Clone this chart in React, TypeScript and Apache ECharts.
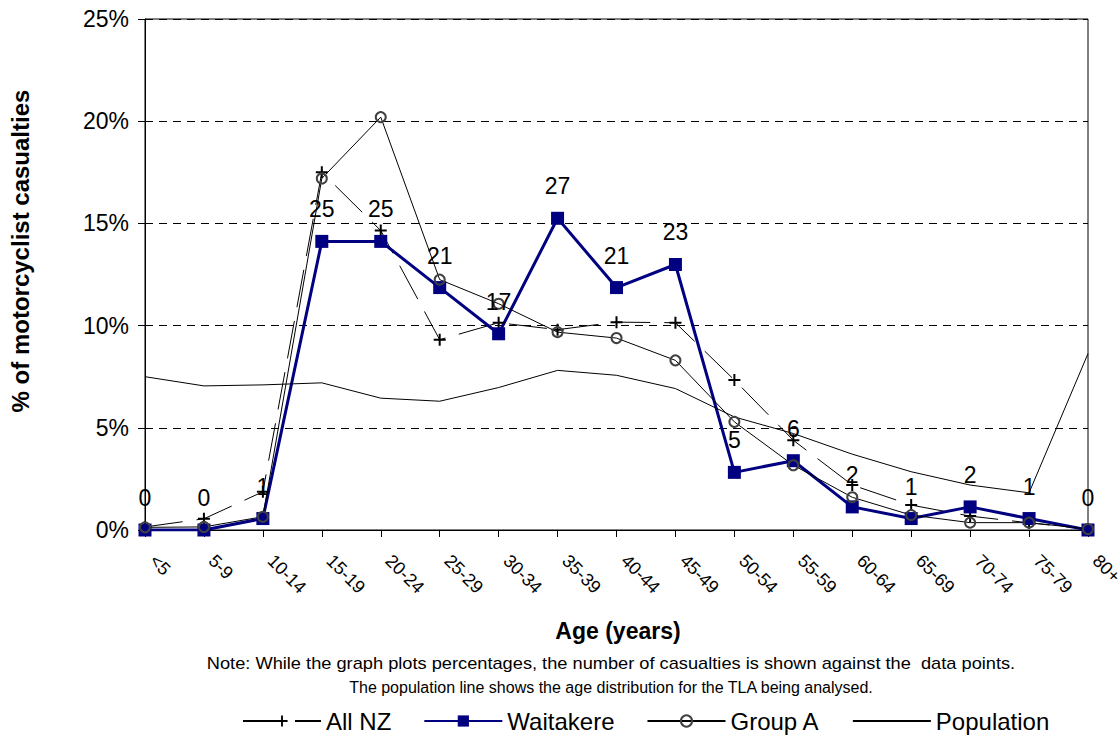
import React, { useEffect, useRef } from "react";
import * as echarts from "echarts";

const FONT = "'Liberation Sans', Arial, sans-serif";

const categories = ["<5", "5-9", "10-14", "15-19", "20-24", "25-29", "30-34", "35-39", "40-44", "45-49", "50-54", "55-59", "60-64", "65-69", "70-74", "75-79", "80+"];

// Percentages (%)
const allNZ = [0.15, 0.55, 1.87, 17.5, 14.65, 9.31, 10.14, 9.8, 10.17, 10.14, 7.34, 4.39, 2.2, 1.22, 0.68, 0.35, 0.05];
const waitakere = [0, 0, 0.56, 14.12, 14.12, 11.86, 9.6, 15.25, 11.86, 12.99, 2.82, 3.39, 1.13, 0.56, 1.13, 0.56, 0];
const groupA = [0.13, 0.15, 0.65, 17.2, 20.2, 12.25, 11.07, 9.68, 9.39, 8.3, 5.29, 3.17, 1.6, 0.73, 0.36, 0.36, 0.05];
const population = [7.5, 7.05, 7.1, 7.2, 6.45, 6.3, 6.97, 7.81, 7.57, 6.92, 5.53, 4.72, 3.71, 2.85, 2.2, 1.82, 8.63];

// Number of casualties (Waitakere) shown against the data points
const waitakereCounts = [0, 0, 1, 25, 25, 21, 17, 27, 21, 23, 5, 6, 2, 1, 2, 1, 0];

const yTicks = { min: 0, max: 25, interval: 5 };

const PLUS = "path://M5,0H7V5H12V7H7V12H5V7H0V5H5Z";

export default function App() {
  const ref = useRef<HTMLDivElement>(null);
  useEffect(() => {
    if (!ref.current) return;
    const chart = echarts.init(ref.current, null, { renderer: "svg" });
    chart.setOption({
      animation: false,
      backgroundColor: "#ffffff",
      textStyle: { fontFamily: FONT, color: "#000" },
      grid: {
        left: 145,
        right: 32,
        top: 19,
        bottom: 210,
        show: true,
        borderColor: "#000",
        borderWidth: 1,
        backgroundColor: "transparent",
        outerBoundsMode: "none",
        containLabel: false,
      },
      xAxis: {
        type: "category",
        data: categories,
        boundaryGap: false,
        axisLine: { show: true, lineStyle: { color: "#000", width: 1 } },
        axisTick: { show: true, length: 7, lineStyle: { color: "#000", width: 1 } },
        axisLabel: { interval: 0, rotate: -45, margin: 20, padding: [0, 0, 0, 11], color: "#000", fontSize: 18, fontFamily: FONT },
        splitLine: { show: false },
      },
      yAxis: {
        type: "value",
        min: yTicks.min,
        max: yTicks.max,
        interval: yTicks.interval,
        axisLine: { show: true, lineStyle: { color: "#000", width: 1 } },
        axisTick: { show: true, length: 7, lineStyle: { color: "#000", width: 1 } },
        axisLabel: { formatter: "{value}%", color: "#000", fontSize: 23, margin: 16, fontFamily: FONT },
        splitLine: { show: true, lineStyle: { color: "#000", width: 1, type: [8, 6] } },
      },
      legend: {
        left: 237,
        top: 704,
        itemWidth: 78,
        itemHeight: 14,
        itemGap: 32,
        textStyle: { fontSize: 24, color: "#000", fontFamily: FONT },
        data: [
          { name: "All NZ" },
          { name: "Waitakere" },
          { name: "Group A" },
          { name: "Population", itemStyle: { opacity: 0 } },
        ],
      },
      graphic: [
        {
          type: "text",
          x: 20,
          y: 251,
          rotation: Math.PI / 2,
          style: { text: "% of motorcyclist casualties", font: `bold 24px ${FONT}`, fill: "#000", align: "center", verticalAlign: "middle" },
        },
        {
          type: "text",
          x: 618,
          y: 631,
          style: { text: "Age (years)", font: `bold 23px ${FONT}`, fill: "#000", align: "center", verticalAlign: "middle" },
        },
        {
          type: "text",
          x: 611,
          y: 663,
          scaleX: 1.14,
          style: { text: "Note: While the graph plots percentages, the number of casualties is shown against the  data points.", font: `16px ${FONT}`, fill: "#000", align: "center", verticalAlign: "middle" },
        },
        {
          type: "text",
          x: 611,
          y: 687,
          style: { text: "The population line shows the age distribution for the TLA being analysed.", font: `16px ${FONT}`, fill: "#000", align: "center", verticalAlign: "middle" },
        },
      ],
      series: [
        {
          name: "All NZ",
          type: "line",
          data: allNZ,
          symbol: PLUS,
          symbolSize: 12,
          itemStyle: { color: "#000" },
          lineStyle: { color: "#000", width: 1, type: [38, 14] },
          emphasis: { disabled: true },
        },
        {
          name: "Waitakere",
          type: "line",
          data: waitakere,
          symbol: "rect",
          symbolSize: 13,
          itemStyle: { color: "#000080" },
          lineStyle: { color: "#000080", width: 3 },
          label: {
            show: true,
            position: "top",
            distance: 14,
            color: "#000",
            fontSize: 23,
            fontFamily: FONT,
            formatter: (p: any) => String(waitakereCounts[p.dataIndex]),
          },
          emphasis: { disabled: true },
        },
        {
          name: "Group A",
          type: "line",
          data: groupA,
          symbol: "circle",
          symbolSize: 10,
          itemStyle: { color: "rgba(0,0,0,0)", borderColor: "#404040", borderWidth: 2 },
          lineStyle: { color: "#000", width: 1 },
          emphasis: { disabled: true },
        },
        {
          name: "Population",
          type: "line",
          data: population,
          symbol: "none",
          itemStyle: { color: "#000" },
          lineStyle: { color: "#000", width: 1 },
          emphasis: { disabled: true },
        },
      ],
    });
    return () => chart.dispose();
  }, []);
  return <div ref={ref} style={{ position: "absolute", left: 0, top: 0, width: 1120, height: 740 }} />;
}
